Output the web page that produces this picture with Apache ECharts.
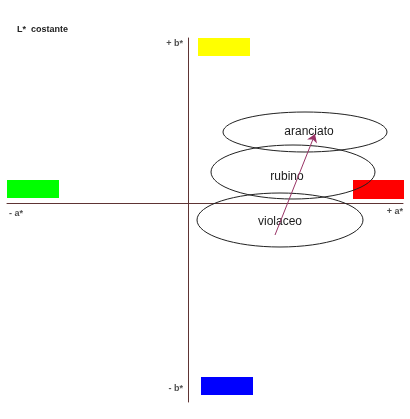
<!DOCTYPE html>
<html><head><meta charset="utf-8">
<script src="https://cdn.jsdelivr.net/npm/echarts@6/dist/echarts.min.js"></script>
<style>html,body{margin:0;padding:0;background:#fff}#c{width:410px;height:419px}</style>
</head><body><div id="c"></div>
<script>
// Coordinates in a*/b* units (origin at axis crossing)
var ellipseNames = ['aranciato', 'rubino', 'violaceo'];
var ellipseCenterA = [117, 105, 92];
var ellipseCenterB = [71, 31, -17];
var ellipseRadiusA = [82, 82, 83];
var ellipseRadiusB = [20, 27, 27];
var ellipseLabelA = [121, 99, 92];
var ellipseLabelB = [71, 26, -19];

var rectNames = ['giallo', 'verde', 'rosso', 'blu'];
var rectA0 = [10, -181, 165, 13];
var rectA1 = [62, -129, 216, 65];
var rectB0 = [165, 23, 23, -174];
var rectB1 = [147, 5, 4, -192];
var rectColors = ['#ffff00', '#00ff00', '#ff0000', '#0000ff'];

var arrowFrom = [87, -32];
var arrowTo = [127, 69];

var axisLabelText = ['+ b*', '- a*', '+ a*', '- b*'];
var axisLabelA = [-5, -179, 215, -5];
var axisLabelB = [159, -11, -9, -186];
var axisLabelAlign = ['right', 'left', 'right', 'right'];

var chart = echarts.init(document.getElementById('c'));
var ellipseData = ellipseNames.map(function (n, i) {
  return [ellipseCenterA[i], ellipseCenterB[i], ellipseRadiusA[i], ellipseRadiusB[i], ellipseLabelA[i], ellipseLabelB[i]];
});
var rectData = rectNames.map(function (n, i) {
  return [rectA0[i], rectB0[i], rectA1[i], rectB1[i]];
});
var labelData = axisLabelText.map(function (t, i) {
  return {value: [axisLabelA[i], axisLabelB[i]], name: t,
    label: {show: true, formatter: t, align: axisLabelAlign[i], verticalAlign: 'middle', position: 'inside',
      fontFamily: 'Liberation Sans, Arial', fontWeight: 'bold', fontSize: 9, color: '#222'}};
});
chart.setOption({
  animation: false,
  backgroundColor: '#fff',
  title: {text: 'L*  costante', left: 17, top: 25, padding: 0,
    textStyle: {fontFamily: 'Liberation Sans, Arial', fontWeight: 'bold', fontSize: 9, color: '#222'}},
  grid: {left: 7, right: 7, top: 38, bottom: 17},
  xAxis: {type: 'value', min: -181, max: 215,
    axisLine: {onZero: true, lineStyle: {color: '#5e3434', width: 1}},
    axisTick: {show: false}, axisLabel: {show: false}, splitLine: {show: false}},
  yAxis: {type: 'value', min: -199, max: 165,
    axisLine: {show: true, onZero: true, lineStyle: {color: '#5e3434', width: 1}},
    axisTick: {show: false}, axisLabel: {show: false}, splitLine: {show: false}},
  series: [
    {type: 'custom', data: rectData, clip: false,
      renderItem: function (params, api) {
        var p0 = api.coord([api.value(0), api.value(1)]);
        var p1 = api.coord([api.value(2), api.value(3)]);
        return {type: 'rect', shape: {x: p0[0], y: p0[1], width: p1[0] - p0[0], height: p1[1] - p0[1]},
          style: {fill: rectColors[params.dataIndex]}};
      }},
    {type: 'custom', data: ellipseData, clip: false, z: 3,
      renderItem: function (params, api) {
        var c = api.coord([api.value(0), api.value(1)]);
        var s = api.size([api.value(2), api.value(3)]);
        var l = api.coord([api.value(4), api.value(5)]);
        return {type: 'group', children: [
          {type: 'ellipse', shape: {cx: c[0], cy: c[1], rx: s[0], ry: s[1]},
            style: {fill: 'none', stroke: '#222', lineWidth: 1}},
          {type: 'text', style: {text: ellipseNames[params.dataIndex], x: l[0], y: l[1],
            align: 'center', verticalAlign: 'middle', fill: '#1a1a1a',
            font: '12px Liberation Sans, Arial'}}
        ]};
      }},
    {type: 'lines', coordinateSystem: 'cartesian2d', z: 4,
      symbol: ['none', 'arrow'], symbolSize: 8,
      lineStyle: {color: '#993366', width: 1, opacity: 1},
      data: [{coords: [arrowFrom, arrowTo]}]},
    {type: 'scatter', symbolSize: 0, data: labelData, clip: false}
  ]
});
</script></body></html>
